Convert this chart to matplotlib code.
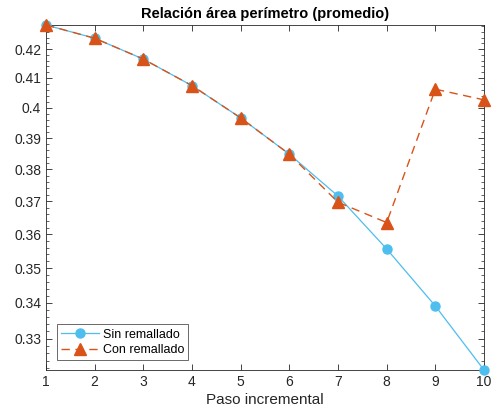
import matplotlib
matplotlib.use("Agg")
import matplotlib.pyplot as plt
from matplotlib.ticker import MultipleLocator, FormatStrFormatter, NullFormatter

plt.rcParams['font.family'] = ['Liberation Sans', 'DejaVu Sans']

pasos = [1, 2, 3, 4, 5, 6, 7, 8, 9, 10]
sin_remallado = [0.4285, 0.4238, 0.4165, 0.4074, 0.3966, 0.3848, 0.3716, 0.3556, 0.3391, 0.3215]
con_remallado = [0.4285, 0.4238, 0.4165, 0.4074, 0.3966, 0.3848, 0.3697, 0.3635, 0.4062, 0.4026]

axcol = '#262626'
fig = plt.figure(figsize=(4.95, 4.18), dpi=100)
ax = fig.add_axes([46/495, 1 - 370/418, 438/495, 345/418])

ax.plot(pasos, sin_remallado, '-o', color='#4DBEEE', lw=0.9, ms=6.5,
        label='Sin remallado', clip_on=False, zorder=3)
ax.plot(pasos, con_remallado, '--^', color='#D95319', lw=1.0, ms=8,
        dashes=(6, 4), label='Con remallado', clip_on=False, zorder=4)

ax.set_yscale('log')
allv = sin_remallado + con_remallado
ax.set_ylim(min(allv), max(allv))
ax.set_xlim(1, 10)
ax.set_xticks(pasos)

ax.yaxis.set_major_locator(MultipleLocator(0.01))
ax.yaxis.set_minor_locator(MultipleLocator(0.002))
ax.yaxis.set_major_formatter(FormatStrFormatter('%g'))
ax.yaxis.set_minor_formatter(NullFormatter())

ax.tick_params(which='both', direction='in', top=True, right=True,
               colors=axcol, labelsize=10, labelcolor=axcol)
ax.tick_params(which='major', length=4, width=0.6)
ax.tick_params(which='minor', length=2, width=0.5)
ax.tick_params(axis='x', which='minor', top=False, bottom=False)
for s in ax.spines.values():
    s.set_color(axcol)
    s.set_linewidth(0.6)

ax.set_title('Relación área perímetro (promedio)', fontsize=10.5,
             fontweight='bold', color='black', pad=5)
ax.set_xlabel('Paso incremental', fontsize=11, color=axcol, labelpad=3)

leg = ax.legend(loc='lower left', bbox_to_anchor=(0.025, 0.028), fontsize=9,
                frameon=True, fancybox=False, borderpad=0.35,
                handlelength=3.0, handletextpad=0.3, labelspacing=0.25,
                borderaxespad=0)
leg.get_frame().set_edgecolor(axcol)
leg.get_frame().set_linewidth(0.6)

fig.savefig('out.png', dpi=100)
